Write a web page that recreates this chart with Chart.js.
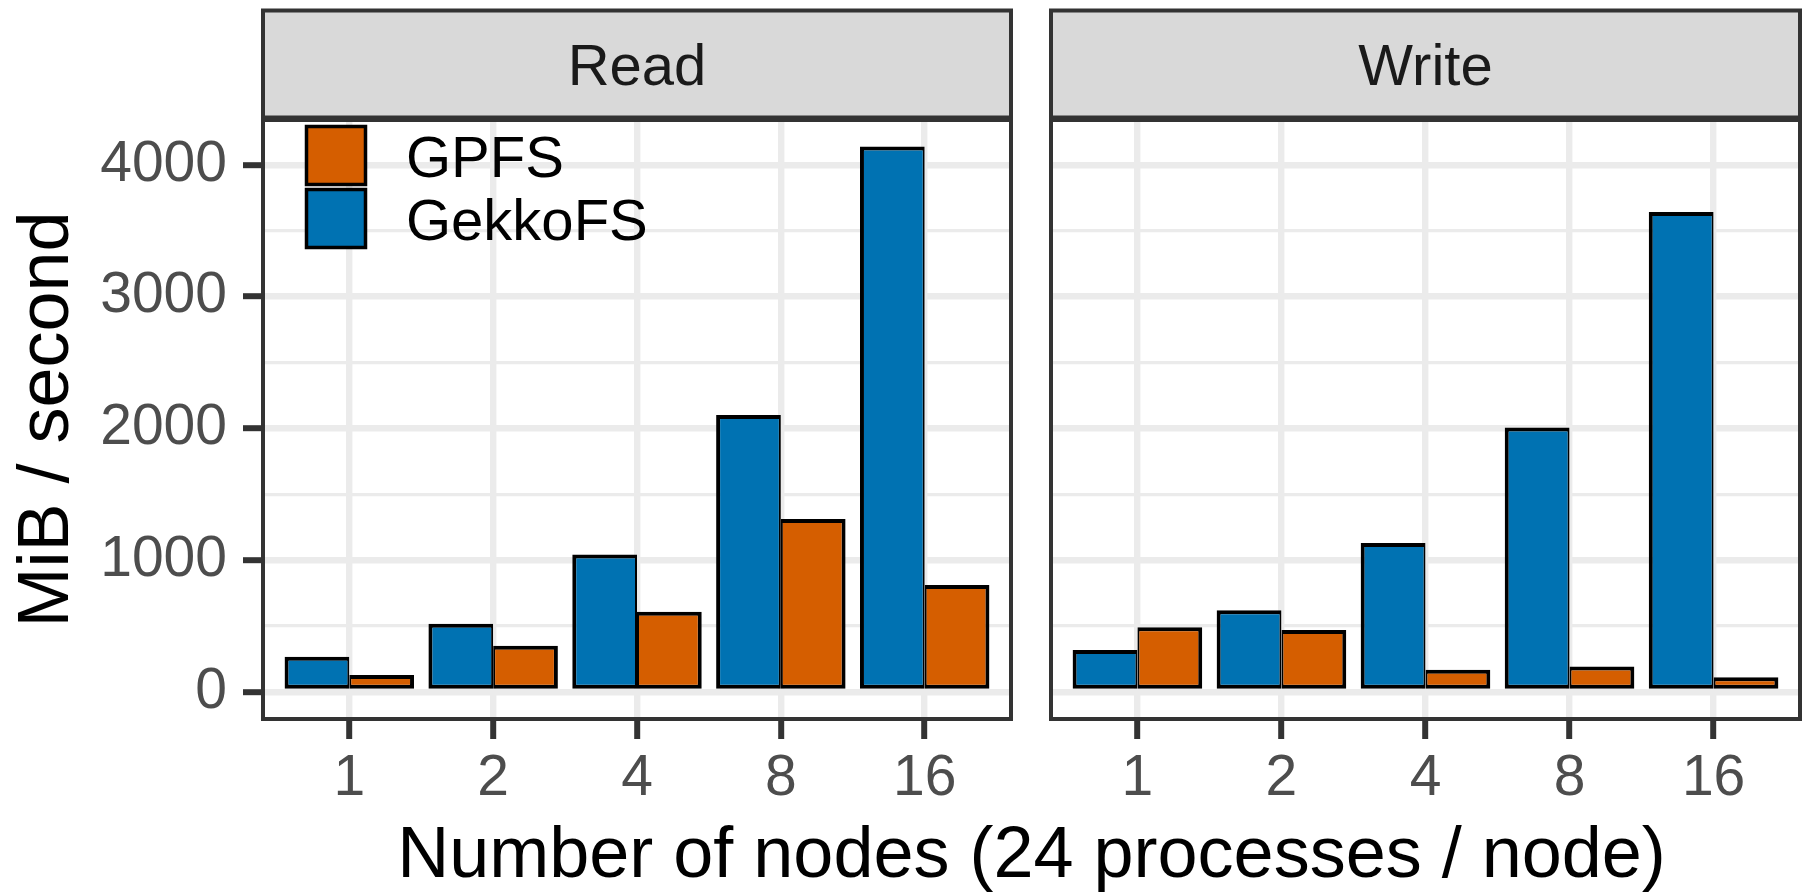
<!DOCTYPE html>
<html>
<head>
<meta charset="utf-8">
<script src="https://cdn.jsdelivr.net/npm/chart.js@4.4.0/dist/chart.umd.min.js"></script>
<style>
  html, body { margin: 0; padding: 0; background: #fff; }
  #wrap { position: relative; width: 1810px; height: 893px; }
  #wrap canvas { position: absolute; left: 0; top: 0; }
</style>
</head>
<body>
<div id="wrap">
  <canvas id="read" width="1810" height="893"></canvas>
  <canvas id="write" width="1810" height="893"></canvas>
</div>
<script>
var nodes = ["1", "2", "4", "8", "16"];
var readGekkoFS = [267, 518, 1044, 2101, 4138];
var readGPFS = [129, 350, 608, 1312, 811];
var writeGekkoFS = [319, 621, 1131, 2006, 3642];
var writeGPFS = [492, 470, 168, 194, 112];
var yTicks = [0, 1000, 2000, 3000, 4000];
var yMinorTicks = [500, 1500, 2500, 3500];
var yRange = [-205, 4340];

var COL_GEKKO = "#0072B2", COL_GPFS = "#D55E00";
var FONT = "'Liberation Sans', Arial, sans-serif";

// page layout of the two facets (px)
var W = 1810, H = 893;
var STRIP_TOP = 10.5, PANEL_TOP = 120, PANEL_BOTTOM = 719;
var readPanel = { left: 263, right: 1011, title: "Read" };
var writePanel = { left: 1051, right: 1800, title: "Write" };

function toPoints(values) {
  return values.map(function (v, i) { return { x: i + 1, y: v }; });
}

function isMajor(v) { return yTicks.indexOf(v) >= 0; }

// strip, panel border, legend and shared x title (ggplot facet look)
var facetDecor = {
  id: "facetDecor",
  beforeDraw: function (chart, args, opts) {
    var c = chart.ctx, p = opts.panel;
    c.save();
    c.fillStyle = "#D9D9D9";
    c.strokeStyle = "#333333";
    c.lineWidth = 4;
    c.fillRect(p.left, STRIP_TOP, p.right - p.left, 107);
    c.strokeRect(p.left, STRIP_TOP, p.right - p.left, 107);
    c.fillStyle = "#1A1A1A";
    c.font = "58px " + FONT;
    c.textAlign = "center";
    c.textBaseline = "alphabetic";
    c.fillText(p.title, (p.left + p.right) / 2, 85);
    c.restore();
  },
  afterDatasetsDraw: function (chart, args, opts) {
    var c = chart.ctx, p = opts.panel;
    c.save();
    c.strokeStyle = "#333333";
    c.lineWidth = 4;
    c.strokeRect(p.left, PANEL_TOP, p.right - p.left, PANEL_BOTTOM - PANEL_TOP);

    if (opts.legend) {
      var sets = chart.data.datasets.slice().reverse();
      c.font = "58px " + FONT;
      c.textAlign = "left";
      c.textBaseline = "alphabetic";
      sets.forEach(function (ds, i) {
        var top = 126.5 + i * 63;
        c.fillStyle = ds.backgroundColor;
        c.fillRect(306.5, top, 59, 58);
        c.lineWidth = 3.5;
        c.strokeStyle = "#000";
        c.strokeRect(306.5, top, 59, 58);
        c.fillStyle = "#000";
        c.fillText(ds.label, 406, top + 50);
      });
    }
    if (opts.xTitle) {
      c.fillStyle = "#000";
      c.font = "72px " + FONT;
      c.textAlign = "center";
      c.textBaseline = "alphabetic";
      c.fillText(opts.xTitle, (readPanel.left + writePanel.right) / 2, 877);
    }
    c.restore();
  }
};

function facetChart(id, panel, gekko, gpfs, first) {
  var ctx = document.getElementById(id).getContext("2d");
  return new Chart(ctx, {
    type: "bar",
    data: {
      datasets: [
        { label: "GekkoFS", data: toPoints(gekko), backgroundColor: COL_GEKKO, borderColor: "#000",
          borderWidth: { top: 4, left: 4, bottom: 4, right: 2 }, borderSkipped: false,
          categoryPercentage: 0.9, barPercentage: 1.0 },
        { label: "GPFS", data: toPoints(gpfs), backgroundColor: COL_GPFS, borderColor: "#000",
          borderWidth: { top: 4, left: 2, bottom: 4, right: 4 }, borderSkipped: false,
          categoryPercentage: 0.9, barPercentage: 1.0 }
      ]
    },
    options: {
      responsive: false,
      animation: false,
      devicePixelRatio: 1,
      events: [],
      layout: { padding: { left: first ? 0 : panel.left, right: W - panel.right, top: PANEL_TOP, bottom: 0 } },
      plugins: {
        legend: { display: false },
        tooltip: { enabled: false },
        facetDecor: {
          panel: panel,
          legend: first,
          xTitle: first ? "Number of nodes (24 processes / node)" : ""
        }
      },
      scales: {
        x: {
          type: "linear",
          min: 0.4, max: 5.6,
          bounds: "data",
          offset: false,
          afterBuildTicks: function (s) {
            s.ticks = nodes.map(function (n, i) { return { value: i + 1 }; });
          },
          afterFit: function (s) { s.height = H - PANEL_BOTTOM; },
          ticks: {
            callback: function (v) { return nodes[v - 1]; },
            font: { family: FONT, size: 57 },
            color: "#4D4D4D",
            padding: 6,
            maxRotation: 0,
            autoSkip: false
          },
          grid: { offset: false, color: "#EBEBEB", lineWidth: 6.4, tickColor: "#333333", tickWidth: 6, tickLength: 20 },
          border: { display: false }
        },
        y: {
          min: yRange[0], max: yRange[1],
          bounds: "data",
          afterBuildTicks: function (s) {
            s.ticks = yTicks.concat(yMinorTicks).sort(function (a, b) { return a - b; })
              .map(function (v) { return { value: v }; });
          },
          afterFit: function (s) { s.width = first ? panel.left : 0; },
          ticks: {
            display: first,
            autoSkip: false,
            callback: function (v) { return isMajor(v) ? String(v) : ""; },
            font: { family: FONT, size: 57 },
            color: "#4D4D4D",
            padding: 16
          },
          grid: {
            color: "#EBEBEB",
            lineWidth: function (c) { return isMajor(c.tick.value) ? 6.4 : 3.2; },
            drawTicks: first,
            tickLength: 20,
            tickWidth: 6,
            tickColor: function (c) { return isMajor(c.tick.value) ? "#333333" : "rgba(0,0,0,0)"; }
          },
          title: {
            display: first,
            text: "MiB / second",
            font: { family: FONT, size: 72 },
            color: "#000",
            padding: { top: 5, bottom: 0 }
          },
          border: { display: false }
        }
      }
    },
    plugins: [facetDecor]
  });
}

facetChart("read", readPanel, readGekkoFS, readGPFS, true);
facetChart("write", writePanel, writeGekkoFS, writeGPFS, false);
</script>
</body>
</html>
